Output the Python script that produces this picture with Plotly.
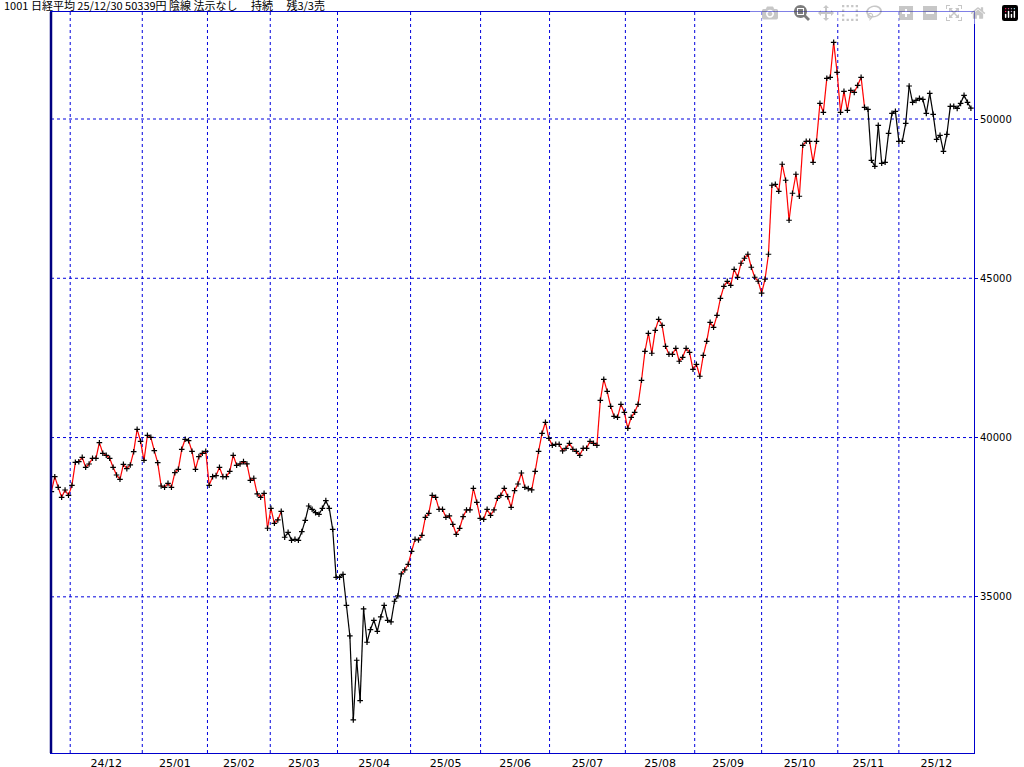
import plotly.graph_objects as go

# Nikkei closes, split into held (red) / not held (black) regimes
red1 = [38301,38772,38438,38124,38354,38187,38501,39223,39242,39380,39066,39170,39349,39349,39839,39506,39443,39349,39066,38825,38690,39160,39024,39140,39557,40259,39883,39286,40071,40008,39588,39211,38480,38438,38563,
        38439,38899,39004,39632,39945,39904,39569,39004,39401,39506,39569,38502,38774,38805,39067,38774,38774,38941,39443,39129,39171,39244,39171,38659,38722,38230,38125,38251,37153,37780,37309,37414,37686]
black1 = [36870,37026,36775,36806,36775,37047,37402,37852,37748,37643,37591,37779,38020,37779,37120,35614,35614,35708,34735,33773,31137,33009,31744,34620,33574,33971,34264,33919,34369,34735,34264,34212,34861,35028,35719]
red2 = [35844,36022,36430,36806,36786,36932,37497,37622,38187,38124,37748,37748,37497,37539,37277,36963,37152,37518,37727,37727,38407,37968,37465,37434,37748,37560,37727,38093,38187,38407,38145,37811,38334,
        38543,38888,38438,38396,38355,38940,39569,40134,40479,39977,39757,39789,39789,39580,39663,39820,39632,39569,39443,39663,39663,39883,39820,39757,41169,41828,41452,40981,40667,40636,41044,40793,40291,40636,40793,41044,41798,
        42708,43273,42646,43367,43712,43524,42865,42614,42614,42802,42395,42520,42802,42677,42143,42300,41924,42583,43022,43618,43461,43838,44372,44748,44905,44779,45282,45031,
        45472,45629,45755,45347,45033,44907,44531,44970,45755,47920,47951,47731,48579,48077,46822,47669,48265,47575,49175,49300,49300,48641,49300,50493,50210,51277,51309,52407,51466,50210,50869,50273,50901,
        50837,51057,51308,50366]
black2 = [50304,48703,48515,49802,48609,48641,49551,50178,50241,49300,49300,49864,51036,50523,50586,50649,50617,50178,50806,50147,49362,49488,48986,49519,50398,50398,50335,50492,50743,50523,50339]

month_labels = ["24/12","25/01","25/02","25/03","25/04","25/05","25/06","25/07","25/08","25/09","25/10","25/11","25/12"]
month_start_idx = [5.5,26.5,45.5,63.8,83.4,104.7,125.1,145.2,167.3,187.5,207.0,229.2,247.0]
y_ticks = [35000,40000,45000,50000]

chunks = [(red1,"#ff0000"),(black1,"#000000"),(red2,"#ff0000"),(black2,"#000000")]
values, colors = [], []
for vals, c in chunks:
    values += vals
    colors += [c]*len(vals)
n = len(values)
xs = list(range(n))

seg = {"#ff0000": ([], []), "#000000": ([], [])}
for i in range(1, n):
    sx, sy = seg[colors[i]]
    sx += [i-1, i, None]
    sy += [values[i-1], values[i], None]

fig = go.Figure()
for c, (sx, sy) in seg.items():
    fig.add_trace(go.Scatter(x=sx, y=sy, mode="lines", line=dict(color=c, width=1.2),
                             hoverinfo="skip", showlegend=False))
fig.add_trace(go.Scatter(x=xs, y=values, mode="markers",
                         marker=dict(symbol="cross-thin", size=4, line=dict(color="black", width=1.2)),
                         showlegend=False))

xmax = n - 1 + 0.9
ends = month_start_idx + [xmax]
mids = [(ends[i] + ends[i+1]) / 2 for i in range(len(month_start_idx))]
grid = dict(color="#0000dd", width=1, dash="3px,3px")
for m in month_start_idx:
    fig.add_shape(type="line", x0=m, x1=m, y0=0, y1=1, yref="paper", line=grid, layer="below")
for v in y_ticks:
    fig.add_shape(type="line", x0=0, x1=1, xref="paper", y0=v, y1=v, line=grid, layer="below")
fig.add_shape(type="line", x0=0, x1=0, xref="paper", y0=0, y1=1, yref="paper",
              line=dict(color="#000080", width=2.5))

fig.update_layout(
    width=1024, height=767, paper_bgcolor="white", plot_bgcolor="white",
    margin=dict(l=51, r=50, t=12, b=14, autoexpand=False),
    font=dict(family="DejaVu Sans", size=11, color="black"),
    xaxis=dict(range=[-0.1, xmax], tickvals=mids, ticktext=month_labels, showgrid=False,
               zeroline=False, showline=True, mirror=True, linecolor="#0000cc", linewidth=1,
               ticks="", tickfont=dict(size=11)),
    yaxis=dict(range=[30098, 53359], side="right", tickvals=y_ticks, ticktext=[str(v) for v in y_ticks],
               showgrid=False, zeroline=False, showline=True, mirror=True, linecolor="#0000cc",
               linewidth=1, ticks="outside", ticklen=3, tickcolor="#0000cc", tickfont=dict(size=10)),
    annotations=[dict(text="1001 日経平均 25/12/30 50339円 陰線 法示なし　 持続　 残3/3売",
                      xref="paper", yref="paper", x=0, y=1.0, xanchor="left", yanchor="bottom",
                      xshift=-49, yshift=-3,
                      showarrow=False, font=dict(size=11, family="Noto Sans CJK JP"))],
)
fig.write_html("out.html")
with open("out.html", encoding="utf-8") as f:
    html = f.read()
html = html.replace("<head>", "<head><style>html,body{margin:0;padding:0;overflow:hidden}</style>", 1)
with open("out.html", "w", encoding="utf-8") as f:
    f.write(html)
